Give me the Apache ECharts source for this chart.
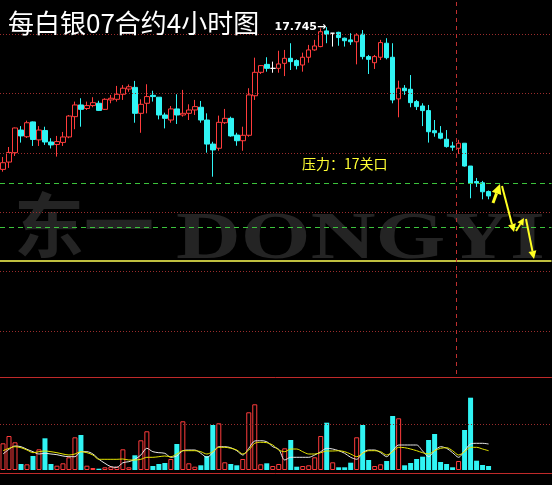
<!DOCTYPE html>
<html><head><meta charset="utf-8">
<script src="https://cdn.jsdelivr.net/npm/echarts/dist/echarts.min.js"></script>
<style>html,body{margin:0;padding:0;background:#000;}#c{width:552px;height:485px;}</style>
</head><body><div id="c"></div>
<script>
// ---- data ----
const openP = [17.065,17.100,17.145,17.253,17.221,17.292,17.206,17.251,17.196,17.184,17.194,17.220,17.317,17.373,17.356,17.370,17.381,17.352,17.397,17.400,
17.424,17.449,17.457,17.333,17.381,17.419,17.410,17.325,17.301,17.354,17.325,17.333,17.349,17.362,17.301,17.186,17.166,17.288,17.309,17.229,
17.202,17.228,17.417,17.529,17.567,17.548,17.548,17.572,17.596,17.585,17.564,17.601,17.636,17.652,17.727,17.716,17.720,17.692,17.684,17.675,
17.711,17.604,17.575,17.601,17.668,17.601,17.402,17.453,17.448,17.389,17.368,17.346,17.250,17.238,17.209,17.177,17.166,17.190,17.081,17.007,
17.001,16.959];
const closeP = [17.097,17.146,17.263,17.225,17.288,17.208,17.253,17.196,17.182,17.198,17.220,17.320,17.373,17.352,17.370,17.384,17.347,17.400,17.405,17.424,
17.453,17.460,17.333,17.376,17.413,17.413,17.325,17.309,17.354,17.325,17.333,17.349,17.365,17.301,17.186,17.158,17.290,17.309,17.225,17.202,
17.228,17.421,17.529,17.561,17.548,17.548,17.569,17.596,17.580,17.561,17.601,17.636,17.655,17.723,17.711,17.716,17.695,17.680,17.675,17.707,
17.604,17.591,17.604,17.671,17.599,17.397,17.453,17.441,17.384,17.365,17.346,17.245,17.240,17.214,17.174,17.171,17.190,17.081,16.999,17.000,
16.958,16.938];
const lowP = [17.054,17.072,17.129,17.193,17.215,17.177,17.177,17.182,17.165,17.126,17.177,17.214,17.257,17.269,17.349,17.362,17.344,17.349,17.381,17.389,
17.397,17.436,17.288,17.240,17.333,17.389,17.304,17.261,17.288,17.282,17.317,17.301,17.325,17.288,17.145,17.030,17.154,17.282,17.221,17.178,
17.154,17.221,17.397,17.521,17.532,17.527,17.527,17.511,17.540,17.543,17.532,17.575,17.632,17.649,17.668,17.652,17.656,17.652,17.660,17.567,
17.591,17.521,17.545,17.588,17.591,17.381,17.314,17.421,17.362,17.349,17.272,17.193,17.221,17.209,17.169,17.154,17.139,17.078,16.927,16.981,
16.922,16.922];
const highP = [17.124,17.172,17.265,17.272,17.298,17.294,17.272,17.269,17.214,17.225,17.244,17.325,17.389,17.405,17.389,17.410,17.393,17.405,17.421,17.464,
17.468,17.471,17.488,17.400,17.472,17.441,17.410,17.336,17.368,17.424,17.445,17.376,17.397,17.392,17.333,17.197,17.322,17.354,17.317,17.240,
17.269,17.453,17.599,17.564,17.601,17.580,17.632,17.636,17.668,17.591,17.623,17.660,17.684,17.739,17.745,17.716,17.723,17.695,17.716,17.716,
17.731,17.612,17.612,17.684,17.692,17.668,17.489,17.468,17.516,17.397,17.381,17.373,17.301,17.272,17.253,17.197,17.206,17.190,17.081,17.024,
17.010,16.964];
const volume = [2670,3400,2770,600,570,1400,2070,3170,600,430,670,1270,3270,3500,430,200,130,270,330,330,
2070,270,1470,2970,3870,400,600,700,1100,2600,4870,670,330,470,1400,4500,4670,770,600,470,
1100,5770,6570,570,670,400,600,2170,3000,330,400,470,1270,3400,4730,770,270,270,730,3270,
4500,1000,400,570,900,5400,5170,470,700,1100,1330,3000,3600,800,600,270,900,4000,7230,930,
500,400];
const volMaWhite = [1600,2070,2400,2330,2070,1830,1600,1670,1600,1530,1400,1330,1330,1830,1830,1600,1070,670,330,270,
730,830,1070,1500,2170,1830,1730,1670,1270,1400,1930,2000,2000,1670,1270,1730,2330,2330,2230,1930,
1500,2170,2900,2930,2830,2330,2070,1000,1270,1270,1270,1270,1500,1830,2170,2100,1930,1670,1270,1070,
1730,2000,2000,1730,1330,1930,2500,2500,2500,2500,1900,1330,1930,2330,2170,1730,1270,1930,2600,2670,
2670,2600];
const volMaYellow = [1930,2170,2330,2230,2000,1730,1830,1900,1830,1730,1600,1500,1600,1830,1730,1500,1070,1070,1070,1070,
1100,1000,1000,1070,1270,1270,1330,1400,1330,1600,1930,1930,1930,1830,1600,1830,2270,2270,2170,2000,
1600,2000,2670,2770,2730,2500,2000,1830,2100,2100,1830,1600,1600,1730,1900,1900,1930,1830,1600,1330,
1670,1930,1930,1830,1500,1830,2270,2230,2100,1930,1730,1600,1930,2170,2230,1930,1500,1830,2270,2270,
2100,1930];
const dojiIndex = [45, 55];
const gridLevels = [17.712, 17.425, 17.143, 16.861, 16.579, 16.293];
const supportLevels = [17.000, 16.785];
const targetLevel = 16.632;
const volGridLevel = 4570;
const sessionBreakIndex = 76;
const titleText = '每白银07合约4小时图';
const noteText = '压力：17关口';
const slotCount = 92;

// ---- styling ----
const UP = '#ff3c3c', DOWN = '#30f4f4', DOJI = '#ffffff';
const GRIDRED = '#9a2c2c', BORDERRED = '#c02a2a';
const cats = [];
for (let i = 0; i < slotCount; i++) cats.push('K' + (i + 1));

const candleData = openP.map((o, i) => {
  const item = { value: [o, closeP[i], lowP[i], highP[i]] };
  if (dojiIndex.includes(i)) item.itemStyle = { color: DOJI, color0: DOJI, borderColor: DOJI, borderColor0: DOJI, borderColorDoji: DOJI };
  return item;
});
const volData = volume.map((v, i) => {
  const up = closeP[i] >= openP[i];
  return { value: v, itemStyle: up ? { color: '#000', borderColor: UP, borderWidth: 1 } : { color: DOWN, borderColor: DOWN, borderWidth: 0 } };
});
const peakVal = Math.max(...highP);
const peakIdx = highP.indexOf(peakVal);

const yMin = 16.0726, yMax = 17.8651;
const hl = (v, color, type, width) => ({ yAxis: v, lineStyle: { color, type, width } });

const chart = echarts.init(document.getElementById('c'), null, { renderer: 'canvas' });
chart.setOption({
  backgroundColor: '#000',
  animation: false,
  grid: [
    { left: -0.5, right: 0.5, top: 2, height: 375 },
    { left: -0.5, right: 0.5, top: 377, height: 96 }
  ],
  xAxis: [
    { type: 'category', gridIndex: 0, data: cats, boundaryGap: true,
      axisLine: { show: true, onZero: false, lineStyle: { color: BORDERRED, width: 1 } },
      axisTick: { show: false }, axisLabel: { show: false }, splitLine: { show: false } },
    { type: 'category', gridIndex: 1, data: cats, boundaryGap: true,
      axisLine: { show: true, onZero: false, lineStyle: { color: BORDERRED, width: 1 } },
      axisTick: { show: false }, axisLabel: { show: false }, splitLine: { show: false } }
  ],
  yAxis: [
    { type: 'value', gridIndex: 0, min: yMin, max: yMax, show: false, splitLine: { show: false } },
    { type: 'value', gridIndex: 1, min: -300, max: 9300, show: false, splitLine: { show: false } }
  ],
  series: [
    { type: 'candlestick', xAxisIndex: 0, yAxisIndex: 0, barWidth: 5, data: candleData,
      itemStyle: { color: '#000', color0: DOWN, borderColor: UP, borderColor0: DOWN, borderWidth: 1 },
      markLine: { silent: true, symbol: 'none', label: { show: false },
        data: [
          ...gridLevels.map(v => hl(v, GRIDRED, [1, 2], 1)),
          hl(yMax, BORDERRED, 'solid', 1),
          ...supportLevels.map(v => hl(v, '#3cc43c', [5, 4], 1)),
          hl(targetLevel, '#ffff55', 'solid', 1.5)
        ] },
      markPoint: { symbol: 'circle', symbolSize: 1, itemStyle: { color: 'rgba(0,0,0,0)' },
        data: [{ coord: [cats[peakIdx], peakVal], value: peakVal }],
        label: { show: true, position: 'left', distance: 0, color: '#ffffff', fontSize: 11, fontWeight: 'bold',
          fontFamily: 'DejaVu Sans', formatter: p => p.value.toFixed(3) + '→' } }
    },
    { type: 'bar', xAxisIndex: 1, yAxisIndex: 1, barWidth: 5, data: volData,
      markLine: { silent: true, symbol: 'none', label: { show: false }, data: [hl(volGridLevel, GRIDRED, [1, 2], 1)] } },
    { type: 'line', xAxisIndex: 1, yAxisIndex: 1, data: volMaWhite, symbol: 'none', smooth: 0.3,
      lineStyle: { color: '#e8e8e8', width: 1 } },
    { type: 'line', xAxisIndex: 1, yAxisIndex: 1, data: volMaYellow, symbol: 'none', smooth: 0.3,
      lineStyle: { color: '#e6e600', width: 1 } }
  ]
});

function arrow(x1, y1, x2, y2, head, w) {
  const dx = x2 - x1, dy = y2 - y1, L = Math.hypot(dx, dy), ux = dx / L, uy = dy / L;
  const bx = x2 - ux * head, by = y2 - uy * head, px = -uy, py = ux;
  const c = '#ffff22';
  return [
    { type: 'line', z: 100, shape: { x1, y1, x2: bx, y2: by }, style: { stroke: c, lineWidth: w } },
    { type: 'polygon', z: 100, shape: { points: [[x2, y2], [bx + px * head * 0.5, by + py * head * 0.5], [bx - px * head * 0.5, by - py * head * 0.5]] }, style: { fill: c } }
  ];
}

const xa = chart.convertToPixel({ xAxisIndex: 0 }, cats[sessionBreakIndex - 1]);
const xb = chart.convertToPixel({ xAxisIndex: 0 }, cats[sessionBreakIndex]);
const sepX = Math.round((xa + xb) / 2) + 0.5;

chart.setOption({
  graphic: [
    { type: 'text', z: -10, left: 14, top: 190, style: { text: '东一', fill: '#242424', font: 'bold 70px "Noto Sans CJK SC"' } },
    { type: 'text', z: -10, x: 176, y: 206, scaleX: 1.32, style: { text: 'DONGYI', fill: '#242424', font: 'bold 68px "Liberation Serif"' } },
    { type: 'line', z: 5, shape: { x1: sepX, y1: 2, x2: sepX, y2: 377 }, style: { stroke: '#c03030', lineWidth: 1, lineDash: [4, 4] } },
    { type: 'text', z: 100, x: 8, y: 23, style: { text: titleText, fill: '#ffffff', font: '26px "Noto Sans CJK SC"', textVerticalAlign: 'middle' } },
    { type: 'text', z: 100, x: 302, y: 164, style: { text: noteText, fill: '#ffff33', font: '14px "Noto Sans CJK SC"', textVerticalAlign: 'middle' } },
    ...arrow(493, 203, 500, 184, 10, 3),
    ...arrow(502, 186, 514, 232, 8, 2),
    ...arrow(516, 231, 524, 218, 7, 2),
    ...arrow(526, 219, 534, 259, 8, 2)
  ]
});
</script></body></html>
